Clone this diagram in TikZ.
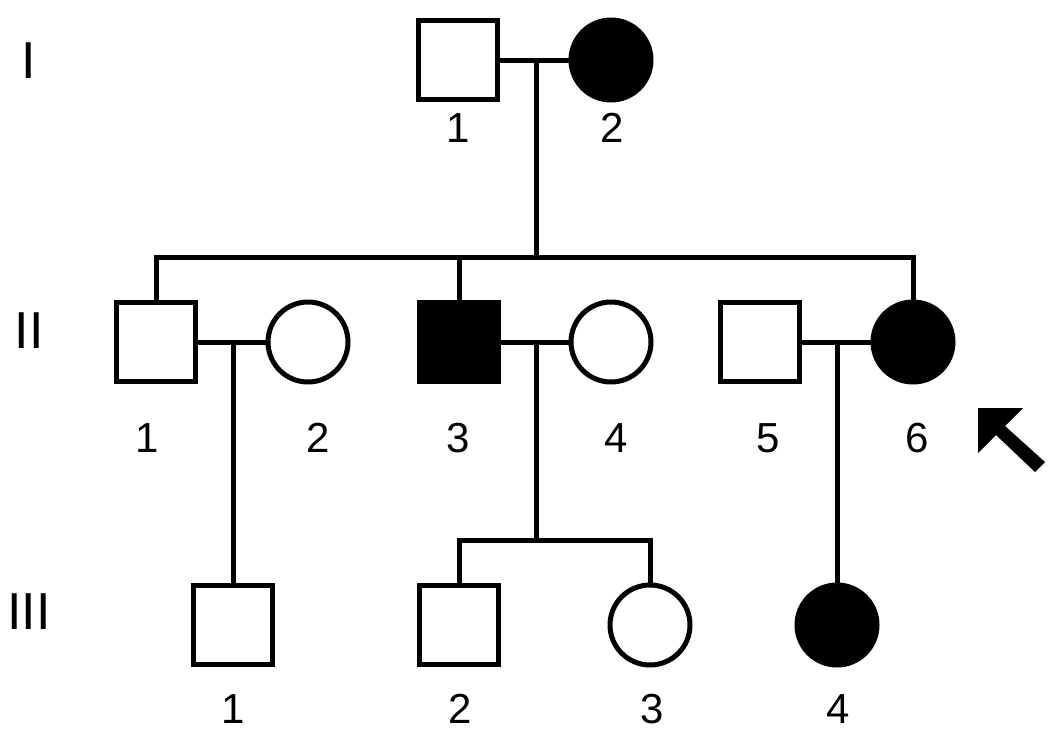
\documentclass[tikz,border=0pt]{standalone}
\usepackage{fontspec}
\setmainfont{Liberation Sans}
\begin{document}
\begin{tikzpicture}[x=1pt,y=-1pt,
  ln/.style={line width=5pt},
  male/.style={draw, line width=5pt, rectangle, minimum size=79pt, inner sep=0pt},
  female/.style={draw, line width=5pt, circle, minimum size=80pt, inner sep=0pt},
  aff/.style={fill=black},
  num/.style={font=\fontsize{42}{42}\selectfont, inner sep=0pt},
  gen/.style={font=\fontsize{52}{52}\selectfont, inner sep=0pt}]
\useasboundingbox (0,0) rectangle (1063,739);

% generation labels
\node[gen] (gI) at (29,61) {I};
\node[gen] (gII) at (29,331) {II};
\node[gen] (gIII) at (29,612) {III};

% generation I
\node[male] (i1) at (458,60) {};
\node[female,aff] (i2) at (611,60) {};
\node[num] (li1) at (458,128) {1};
\node[num] (li2) at (612,128) {2};

% generation II
\node[male] (ii1) at (156,342) {};
\node[female] (ii2) at (308,342) {};
\node[male,aff] (ii3) at (459,342) {};
\node[female] (ii4) at (611,342) {};
\node[male] (ii5) at (760,342) {};
\node[female,aff] (ii6) at (913,342) {};
\node[num] (lii1) at (147,438) {1};
\node[num] (lii2) at (318,438) {2};
\node[num] (lii3) at (458,438) {3};
\node[num] (lii4) at (616,438) {4};
\node[num] (lii5) at (768,438) {5};
\node[num] (lii6) at (917,438) {6};

% generation III
\node[male] (iii1) at (233,625) {};
\node[male] (iii2) at (459,625) {};
\node[female] (iii3) at (650,625) {};
\node[female,aff] (iii4) at (837,625) {};
\node[num] (liii1) at (233,709) {1};
\node[num] (liii2) at (460,709) {2};
\node[num] (liii3) at (652,709) {3};
\node[num] (liii4) at (838,709) {4};

% junction points
\coordinate (m1) at (536,60);
\coordinate (s2) at (536,257);
\coordinate (m21) at (233,342);
\coordinate (m23) at (536,342);
\coordinate (s3) at (536,540);
\coordinate (m25) at (837,342);

% generation I mating and descent
\draw[ln] (i1.east) -- (i2.west);
\draw[ln] (m1) -- (s2);
\draw[ln] (ii1.north) |- (s2) -| (ii6.north);
\draw[ln] (ii3.north) -- (ii3.north |- s2);

% generation II matings and descents
\draw[ln] (ii1.east) -- (ii2.west);
\draw[ln] (m21) -- (iii1.north);
\draw[ln] (ii3.east) -- (ii4.west);
\draw[ln] (m23) -- (s3);
\draw[ln] (iii2.north) |- (s3) -| (iii3.north);
\draw[ln] (ii5.east) -- (ii6.west);
\draw[ln] (m25) -- (iii4.north);

% proband arrow
\fill (978,408) -- (1023,408) -- (1005,426) -- (1045,462) -- (1035,472) -- (996,435) -- (978,453) -- cycle;
\end{tikzpicture}
\end{document}
